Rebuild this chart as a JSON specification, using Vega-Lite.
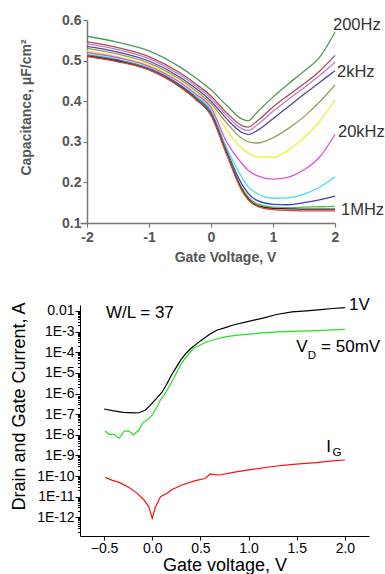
{
  "$schema": "https://vega.github.io/schema/vega-lite/v6.json",
  "padding": {"left": 9, "top": 13, "right": 0, "bottom": 0},
  "spacing": 32,
  "resolve": {"scale": {"color": "independent", "x": "independent", "y": "independent"}},
  "config": {
    "font": "Liberation Sans",
    "view": {"stroke": null},
    "axis": {"grid": false, "labelFont": "Liberation Sans", "titleFont": "Liberation Sans"}
  },
  "datasets": {
    "cv": [
      {"v": -2, "c": 0.560, "s": "c01"}, {"v": -1.5, "c": 0.545, "s": "c01"}, {"v": -1, "c": 0.524, "s": "c01"}, {"v": -0.5, "c": 0.484, "s": "c01"}, {"v": -0.25, "c": 0.458, "s": "c01"}, {"v": 0, "c": 0.428, "s": "c01"}, {"v": 0.25, "c": 0.390, "s": "c01"}, {"v": 0.5, "c": 0.356, "s": "c01"}, {"v": 0.6, "c": 0.352, "s": "c01"}, {"v": 0.75, "c": 0.374, "s": "c01"}, {"v": 1, "c": 0.410, "s": "c01"}, {"v": 1.25, "c": 0.443, "s": "c01"}, {"v": 1.5, "c": 0.474, "s": "c01"}, {"v": 1.75, "c": 0.508, "s": "c01"}, {"v": 2, "c": 0.570, "s": "c01"},
      {"v": -2, "c": 0.546, "s": "c02"}, {"v": -1.5, "c": 0.532, "s": "c02"}, {"v": -1, "c": 0.510, "s": "c02"}, {"v": -0.5, "c": 0.470, "s": "c02"}, {"v": -0.25, "c": 0.443, "s": "c02"}, {"v": 0, "c": 0.413, "s": "c02"}, {"v": 0.25, "c": 0.372, "s": "c02"}, {"v": 0.5, "c": 0.340, "s": "c02"}, {"v": 0.6, "c": 0.336, "s": "c02"}, {"v": 0.75, "c": 0.352, "s": "c02"}, {"v": 1, "c": 0.386, "s": "c02"}, {"v": 1.25, "c": 0.415, "s": "c02"}, {"v": 1.5, "c": 0.443, "s": "c02"}, {"v": 1.75, "c": 0.474, "s": "c02"}, {"v": 2, "c": 0.513, "s": "c02"},
      {"v": -2, "c": 0.541, "s": "c03"}, {"v": -1.5, "c": 0.527, "s": "c03"}, {"v": -1, "c": 0.505, "s": "c03"}, {"v": -0.5, "c": 0.465, "s": "c03"}, {"v": -0.25, "c": 0.438, "s": "c03"}, {"v": 0, "c": 0.407, "s": "c03"}, {"v": 0.25, "c": 0.365, "s": "c03"}, {"v": 0.5, "c": 0.332, "s": "c03"}, {"v": 0.6, "c": 0.328, "s": "c03"}, {"v": 0.75, "c": 0.342, "s": "c03"}, {"v": 1, "c": 0.375, "s": "c03"}, {"v": 1.25, "c": 0.405, "s": "c03"}, {"v": 1.5, "c": 0.433, "s": "c03"}, {"v": 1.75, "c": 0.463, "s": "c03"}, {"v": 2, "c": 0.496, "s": "c03"},
      {"v": -2, "c": 0.535, "s": "c04"}, {"v": -1.5, "c": 0.521, "s": "c04"}, {"v": -1, "c": 0.499, "s": "c04"}, {"v": -0.5, "c": 0.459, "s": "c04"}, {"v": -0.25, "c": 0.432, "s": "c04"}, {"v": 0, "c": 0.400, "s": "c04"}, {"v": 0.25, "c": 0.357, "s": "c04"}, {"v": 0.5, "c": 0.323, "s": "c04"}, {"v": 0.6, "c": 0.318, "s": "c04"}, {"v": 0.75, "c": 0.328, "s": "c04"}, {"v": 1, "c": 0.357, "s": "c04"}, {"v": 1.25, "c": 0.387, "s": "c04"}, {"v": 1.5, "c": 0.417, "s": "c04"}, {"v": 1.75, "c": 0.446, "s": "c04"}, {"v": 2, "c": 0.475, "s": "c04"},
      {"v": -2, "c": 0.530, "s": "c05"}, {"v": -1.5, "c": 0.516, "s": "c05"}, {"v": -1, "c": 0.494, "s": "c05"}, {"v": -0.5, "c": 0.454, "s": "c05"}, {"v": -0.25, "c": 0.426, "s": "c05"}, {"v": 0, "c": 0.394, "s": "c05"}, {"v": 0.25, "c": 0.347, "s": "c05"}, {"v": 0.5, "c": 0.308, "s": "c05"}, {"v": 0.6, "c": 0.300, "s": "c05"}, {"v": 0.75, "c": 0.297, "s": "c05"}, {"v": 1, "c": 0.310, "s": "c05"}, {"v": 1.25, "c": 0.333, "s": "c05"}, {"v": 1.5, "c": 0.362, "s": "c05"}, {"v": 1.75, "c": 0.398, "s": "c05"}, {"v": 2, "c": 0.440, "s": "c05"},
      {"v": -2, "c": 0.524, "s": "c06"}, {"v": -1.5, "c": 0.510, "s": "c06"}, {"v": -1, "c": 0.489, "s": "c06"}, {"v": -0.5, "c": 0.449, "s": "c06"}, {"v": -0.25, "c": 0.421, "s": "c06"}, {"v": 0, "c": 0.388, "s": "c06"}, {"v": 0.25, "c": 0.330, "s": "c06"}, {"v": 0.5, "c": 0.284, "s": "c06"}, {"v": 0.6, "c": 0.272, "s": "c06"}, {"v": 0.75, "c": 0.263, "s": "c06"}, {"v": 1, "c": 0.262, "s": "c06"}, {"v": 1.25, "c": 0.280, "s": "c06"}, {"v": 1.5, "c": 0.310, "s": "c06"}, {"v": 1.75, "c": 0.350, "s": "c06"}, {"v": 2, "c": 0.403, "s": "c06"},
      {"v": -2, "c": 0.520, "s": "c07"}, {"v": -1.5, "c": 0.507, "s": "c07"}, {"v": -1, "c": 0.486, "s": "c07"}, {"v": -0.5, "c": 0.446, "s": "c07"}, {"v": -0.25, "c": 0.418, "s": "c07"}, {"v": 0, "c": 0.384, "s": "c07"}, {"v": 0.25, "c": 0.300, "s": "c07"}, {"v": 0.5, "c": 0.246, "s": "c07"}, {"v": 0.6, "c": 0.230, "s": "c07"}, {"v": 0.75, "c": 0.216, "s": "c07"}, {"v": 1, "c": 0.208, "s": "c07"}, {"v": 1.25, "c": 0.213, "s": "c07"}, {"v": 1.5, "c": 0.231, "s": "c07"}, {"v": 1.75, "c": 0.262, "s": "c07"}, {"v": 2, "c": 0.318, "s": "c07"},
      {"v": -2, "c": 0.515, "s": "c08"}, {"v": -1.5, "c": 0.503, "s": "c08"}, {"v": -1, "c": 0.482, "s": "c08"}, {"v": -0.5, "c": 0.441, "s": "c08"}, {"v": -0.25, "c": 0.413, "s": "c08"}, {"v": 0, "c": 0.377, "s": "c08"}, {"v": 0.25, "c": 0.285, "s": "c08"}, {"v": 0.5, "c": 0.212, "s": "c08"}, {"v": 0.6, "c": 0.189, "s": "c08"}, {"v": 0.75, "c": 0.172, "s": "c08"}, {"v": 1, "c": 0.161, "s": "c08"}, {"v": 1.25, "c": 0.162, "s": "c08"}, {"v": 1.5, "c": 0.171, "s": "c08"}, {"v": 1.75, "c": 0.188, "s": "c08"}, {"v": 2, "c": 0.214, "s": "c08"},
      {"v": -2, "c": 0.513, "s": "c09"}, {"v": -1.5, "c": 0.501, "s": "c09"}, {"v": -1, "c": 0.480, "s": "c09"}, {"v": -0.5, "c": 0.439, "s": "c09"}, {"v": -0.25, "c": 0.410, "s": "c09"}, {"v": 0, "c": 0.372, "s": "c09"}, {"v": 0.25, "c": 0.278, "s": "c09"}, {"v": 0.5, "c": 0.195, "s": "c09"}, {"v": 0.6, "c": 0.173, "s": "c09"}, {"v": 0.75, "c": 0.155, "s": "c09"}, {"v": 1, "c": 0.146, "s": "c09"}, {"v": 1.25, "c": 0.145, "s": "c09"}, {"v": 1.5, "c": 0.150, "s": "c09"}, {"v": 1.75, "c": 0.157, "s": "c09"}, {"v": 2, "c": 0.166, "s": "c09"},
      {"v": -2, "c": 0.512, "s": "c10"}, {"v": -1.5, "c": 0.500, "s": "c10"}, {"v": -1, "c": 0.479, "s": "c10"}, {"v": -0.5, "c": 0.437, "s": "c10"}, {"v": -0.25, "c": 0.408, "s": "c10"}, {"v": 0, "c": 0.369, "s": "c10"}, {"v": 0.25, "c": 0.274, "s": "c10"}, {"v": 0.5, "c": 0.186, "s": "c10"}, {"v": 0.6, "c": 0.165, "s": "c10"}, {"v": 0.75, "c": 0.147, "s": "c10"}, {"v": 1, "c": 0.139, "s": "c10"}, {"v": 1.25, "c": 0.138, "s": "c10"}, {"v": 1.5, "c": 0.139, "s": "c10"}, {"v": 1.75, "c": 0.140, "s": "c10"}, {"v": 2, "c": 0.141, "s": "c10"},
      {"v": -2, "c": 0.511, "s": "c11"}, {"v": -1.5, "c": 0.499, "s": "c11"}, {"v": -1, "c": 0.478, "s": "c11"}, {"v": -0.5, "c": 0.436, "s": "c11"}, {"v": -0.25, "c": 0.406, "s": "c11"}, {"v": 0, "c": 0.367, "s": "c11"}, {"v": 0.25, "c": 0.272, "s": "c11"}, {"v": 0.5, "c": 0.182, "s": "c11"}, {"v": 0.6, "c": 0.160, "s": "c11"}, {"v": 0.75, "c": 0.143, "s": "c11"}, {"v": 1, "c": 0.136, "s": "c11"}, {"v": 1.25, "c": 0.135, "s": "c11"}, {"v": 1.5, "c": 0.134, "s": "c11"}, {"v": 1.75, "c": 0.134, "s": "c11"}, {"v": 2, "c": 0.134, "s": "c11"},
      {"v": -2, "c": 0.510, "s": "c12"}, {"v": -1.5, "c": 0.497, "s": "c12"}, {"v": -1, "c": 0.477, "s": "c12"}, {"v": -0.5, "c": 0.435, "s": "c12"}, {"v": -0.25, "c": 0.405, "s": "c12"}, {"v": 0, "c": 0.365, "s": "c12"}, {"v": 0.25, "c": 0.270, "s": "c12"}, {"v": 0.5, "c": 0.179, "s": "c12"}, {"v": 0.6, "c": 0.157, "s": "c12"}, {"v": 0.75, "c": 0.141, "s": "c12"}, {"v": 1, "c": 0.133, "s": "c12"}, {"v": 1.25, "c": 0.131, "s": "c12"}, {"v": 1.5, "c": 0.130, "s": "c12"}, {"v": 1.75, "c": 0.130, "s": "c12"}, {"v": 2, "c": 0.130, "s": "c12"}
    ],
    "cvlab": [
      {"v": 1.968, "c": 0.588, "t": "200Hz"},
      {"v": 2.032, "c": 0.472, "t": "2kHz"},
      {"v": 2.048, "c": 0.324, "t": "20kHz"},
      {"v": 2.097, "c": 0.132, "t": "1MHz"}
    ],
    "iv": [
      {"v": -0.5, "i": 1.78e-7, "s": "d1"}, {"v": -0.4, "i": 1.45e-7, "s": "d1"}, {"v": -0.3, "i": 1.23e-7, "s": "d1"}, {"v": -0.2, "i": 1.15e-7, "s": "d1"}, {"v": -0.14, "i": 1.17e-7, "s": "d1"}, {"v": -0.07, "i": 1.58e-7, "s": "d1"}, {"v": -0.02, "i": 2.75e-7, "s": "d1"}, {"v": 0.03, "i": 4.9e-7, "s": "d1"}, {"v": 0.1, "i": 1.12e-6, "s": "d1"}, {"v": 0.15, "i": 2.82e-6, "s": "d1"}, {"v": 0.2, "i": 7.9e-6, "s": "d1"}, {"v": 0.26, "i": 2.24e-5, "s": "d1"}, {"v": 0.3, "i": 4.47e-5, "s": "d1"}, {"v": 0.35, "i": 8.9e-5, "s": "d1"}, {"v": 0.4, "i": 1.51e-4, "s": "d1"}, {"v": 0.5, "i": 3.55e-4, "s": "d1"}, {"v": 0.6, "i": 7.6e-4, "s": "d1"}, {"v": 0.67, "i": 1.17e-3, "s": "d1"}, {"v": 0.75, "i": 1.51e-3, "s": "d1"}, {"v": 0.84, "i": 2.09e-3, "s": "d1"}, {"v": 1.0, "i": 3.16e-3, "s": "d1"}, {"v": 1.15, "i": 4.47e-3, "s": "d1"}, {"v": 1.29, "i": 6.76e-3, "s": "d1"}, {"v": 1.45, "i": 9.1e-3, "s": "d1"}, {"v": 1.6, "i": 1.02e-2, "s": "d1"}, {"v": 1.75, "i": 1.17e-2, "s": "d1"}, {"v": 1.87, "i": 1.32e-2, "s": "d1"}, {"v": 2.0, "i": 1.45e-2, "s": "d1"},
      {"v": -0.49, "i": 1.51e-8, "s": "d2"}, {"v": -0.447, "i": 1.05e-8, "s": "d2"}, {"v": -0.395, "i": 1.05e-8, "s": "d2"}, {"v": -0.344, "i": 6.8e-9, "s": "d2"}, {"v": -0.292, "i": 1.51e-8, "s": "d2"}, {"v": -0.241, "i": 1.51e-8, "s": "d2"}, {"v": -0.196, "i": 9.8e-9, "s": "d2"}, {"v": -0.138, "i": 1.7e-8, "s": "d2"}, {"v": -0.103, "i": 3.6e-8, "s": "d2"}, {"v": -0.045, "i": 5.6e-8, "s": "d2"}, {"v": 0, "i": 9.1e-8, "s": "d2"}, {"v": 0.05, "i": 2.29e-7, "s": "d2"}, {"v": 0.085, "i": 4.9e-7, "s": "d2"}, {"v": 0.12, "i": 7.9e-7, "s": "d2"}, {"v": 0.155, "i": 1.48e-6, "s": "d2"}, {"v": 0.223, "i": 5.5e-6, "s": "d2"}, {"v": 0.292, "i": 2.4e-5, "s": "d2"}, {"v": 0.36, "i": 6.6e-5, "s": "d2"}, {"v": 0.43, "i": 1.55e-4, "s": "d2"}, {"v": 0.5, "i": 2.24e-4, "s": "d2"}, {"v": 0.566, "i": 3.24e-4, "s": "d2"}, {"v": 0.67, "i": 4.37e-4, "s": "d2"}, {"v": 0.77, "i": 5.75e-4, "s": "d2"}, {"v": 0.91, "i": 6.9e-4, "s": "d2"}, {"v": 1.18, "i": 8.9e-4, "s": "d2"}, {"v": 1.36, "i": 1.0e-3, "s": "d2"}, {"v": 1.7, "i": 1.12e-3, "s": "d2"}, {"v": 2.0, "i": 1.29e-3, "s": "d2"},
      {"v": -0.49, "i": 8.7e-11, "s": "ig"}, {"v": -0.42, "i": 6.3e-11, "s": "ig"}, {"v": -0.344, "i": 4.9e-11, "s": "ig"}, {"v": -0.241, "i": 2.8e-11, "s": "ig"}, {"v": -0.155, "i": 1.45e-11, "s": "ig"}, {"v": -0.086, "i": 6.9e-12, "s": "ig"}, {"v": -0.035, "i": 3.2e-12, "s": "ig"}, {"v": 0, "i": 8.9e-13, "s": "ig"}, {"v": 0.034, "i": 3.2e-12, "s": "ig"}, {"v": 0.085, "i": 1.0e-11, "s": "ig"}, {"v": 0.154, "i": 1.45e-11, "s": "ig"}, {"v": 0.206, "i": 2.24e-11, "s": "ig"}, {"v": 0.309, "i": 3.7e-11, "s": "ig"}, {"v": 0.446, "i": 6.0e-11, "s": "ig"}, {"v": 0.55, "i": 7.6e-11, "s": "ig"}, {"v": 0.6, "i": 1.26e-10, "s": "ig"}, {"v": 0.65, "i": 1.17e-10, "s": "ig"}, {"v": 0.7, "i": 1.12e-10, "s": "ig"}, {"v": 0.84, "i": 1.51e-10, "s": "ig"}, {"v": 1.05, "i": 2.14e-10, "s": "ig"}, {"v": 1.25, "i": 2.9e-10, "s": "ig"}, {"v": 1.46, "i": 3.7e-10, "s": "ig"}, {"v": 1.7, "i": 4.5e-10, "s": "ig"}, {"v": 1.87, "i": 5.4e-10, "s": "ig"}, {"v": 2.0, "i": 6.0e-10, "s": "ig"}
    ],
    "ivlab": [
      {"v": -0.481, "i": 0.0079, "t": "W/L = 37"},
      {"v": 2.042, "i": 0.0195, "t": "1V"},
      {"v": 1.496, "i": 1.8e-4, "t": "V"},
      {"v": 1.753, "i": 1.8e-4, "t": "= 50mV"},
      {"v": 1.805, "i": 2.63e-9, "t": "I"}
    ],
    "ivsub": [
      {"v": 1.613, "i": 6.8e-5, "t": "D"},
      {"v": 1.871, "i": 1.32e-9, "t": "G"}
    ]
  },
  "vconcat": [
    {
      "width": 255,
      "height": 203,
      "layer": [
        {
          "data": {"name": "cv"},
          "mark": {"type": "line", "interpolate": "monotone", "strokeWidth": 1.3},
          "encoding": {
            "x": {
              "field": "v", "type": "quantitative",
              "scale": {"domain": [-2.113, 2], "nice": false, "zero": false},
              "axis": {
                "values": [-2, -1.5, -1, -0.5, 0, 0.5, 1, 1.5, 2],
                "labelExpr": "indexof([-2, -1, 0, 1, 2], datum.value) >= 0 ? '' + datum.value : ''",
                "tickSize": 4,
                "labelFlush": false, "labelOverlap": false,
                "labelFontSize": 14, "labelFontWeight": "bold", "labelColor": "#555555", "labelPadding": 3,
                "domainColor": "#777777", "tickColor": "#777777", "domainWidth": 1.5, "tickWidth": 1.2,
                "title": "Gate Voltage, V", "titleFontSize": 14, "titleFontWeight": "bold", "titleColor": "#555555",
                "titlePadding": 6, "titleX": 145
              }
            },
            "y": {
              "field": "c", "type": "quantitative",
              "scale": {"domain": [0.1, 0.6], "nice": false, "zero": false},
              "axis": {
                "offset": -7,
                "values": [0.1, 0.15, 0.2, 0.25, 0.3, 0.35, 0.4, 0.45, 0.5, 0.55, 0.6],
                "labelExpr": "indexof([0.1, 0.2, 0.3, 0.4, 0.5, 0.6], datum.value) >= 0 ? format(datum.value, '.1f') : ''",
                "tickSize": 4,
                "labelOverlap": false, "labelFlush": false,
                "labelFontSize": 14, "labelFontWeight": "bold", "labelColor": "#555555", "labelPadding": 2,
                "domainColor": "#777777", "tickColor": "#777777", "domainWidth": 1.5, "tickWidth": 1.2,
                "title": "Capacitance, μF/cm²", "titleFontSize": 14, "titleFontWeight": "bold", "titleColor": "#555555",
                "titleX": -61, "titleY": 87, "titleAngle": 270, "titleAlign": "center", "titleBaseline": "middle"
              }
            },
            "color": {
              "field": "s", "type": "nominal", "legend": null,
              "scale": {
                "domain": ["c01", "c02", "c03", "c04", "c05", "c06", "c07", "c08", "c09", "c10", "c11", "c12"],
                "range": ["#4f9b55", "#a94f4f", "#c27bc9", "#4a4aa8", "#9b9b5b", "#eeee3c", "#e04fe0", "#44dde6", "#3b3bd0", "#4cc44c", "#222222", "#e04030"]
              }
            }
          }
        },
        {
          "data": {"name": "cvlab"},
          "mark": {"type": "text", "align": "left", "baseline": "middle", "fontSize": 16.5, "font": "Liberation Sans", "color": "#333333"},
          "encoding": {
            "x": {"field": "v", "type": "quantitative"},
            "y": {"field": "c", "type": "quantitative"},
            "text": {"field": "t"}
          }
        }
      ]
    },
    {
      "width": 289,
      "height": 231,
      "layer": [
        {
          "data": {"name": "iv"},
          "mark": {"type": "line", "strokeWidth": 1.2},
          "encoding": {
            "x": {
              "field": "v", "type": "quantitative",
              "scale": {"domain": [-0.75, 2.25], "nice": false, "zero": false},
              "axis": {
                "values": [-0.5, -0.25, 0, 0.25, 0.5, 0.75, 1, 1.25, 1.5, 1.75, 2],
                "labelExpr": "indexof([-0.5, 0, 0.5, 1, 1.5, 2], datum.value) >= 0 ? format(datum.value, '.1f') : ''",
                "tickSize": 4,
                "labelFlush": false, "labelOverlap": false,
                "labelFontSize": 14, "labelColor": "#000000", "labelPadding": 1,
                "domainColor": "#000000", "tickColor": "#000000",
                "title": "Gate voltage, V", "titleFontSize": 18, "titleFontWeight": "normal", "titleColor": "#000000",
                "titlePadding": 1
              }
            },
            "y": {
              "field": "i", "type": "quantitative",
              "scale": {"type": "log", "domain": [1.24e-13, 0.0195], "nice": false},
              "axis": {
                "values": [2e-13, 3e-13, 4e-13, 5e-13, 6e-13, 7e-13, 8e-13, 9e-13,
                  1e-12, 2e-12, 3e-12, 4e-12, 5e-12, 6e-12, 7e-12, 8e-12, 9e-12,
                  1e-11, 2e-11, 3e-11, 4e-11, 5e-11, 6e-11, 7e-11, 8e-11, 9e-11,
                  1e-10, 2e-10, 3e-10, 4e-10, 5e-10, 6e-10, 7e-10, 8e-10, 9e-10,
                  1e-9, 2e-9, 3e-9, 4e-9, 5e-9, 6e-9, 7e-9, 8e-9, 9e-9,
                  1e-8, 2e-8, 3e-8, 4e-8, 5e-8, 6e-8, 7e-8, 8e-8, 9e-8,
                  1e-7, 2e-7, 3e-7, 4e-7, 5e-7, 6e-7, 7e-7, 8e-7, 9e-7,
                  1e-6, 2e-6, 3e-6, 4e-6, 5e-6, 6e-6, 7e-6, 8e-6, 9e-6,
                  1e-5, 2e-5, 3e-5, 4e-5, 5e-5, 6e-5, 7e-5, 8e-5, 9e-5,
                  1e-4, 2e-4, 3e-4, 4e-4, 5e-4, 6e-4, 7e-4, 8e-4, 9e-4,
                  1e-3, 2e-3, 3e-3, 4e-3, 5e-3, 6e-3, 7e-3, 8e-3, 9e-3,
                  1e-2],
                "labelExpr": "abs(log(datum.value)/LN10 - round(log(datum.value)/LN10)) < 0.001 ? (round(log(datum.value)/LN10) == -2 ? '0.01' : '1E' + round(log(datum.value)/LN10)) : ''",
                "tickSize": {"condition": {"test": "abs(log(datum.value)/LN10 - round(log(datum.value)/LN10)) < 0.001", "value": 5}, "value": 2.5},
                "labelOverlap": false, "labelFlush": false,
                "labelFontSize": 14, "labelColor": "#000000", "labelPadding": 1,
                "domainColor": "#000000", "tickColor": "#000000",
                "title": "Drain and Gate Current, A", "titleFontSize": 18, "titleFontWeight": "normal", "titleColor": "#000000",
                "titleX": -61, "titleY": 101, "titleAngle": 270, "titleAlign": "center", "titleBaseline": "middle"
              }
            },
            "color": {
              "field": "s", "type": "nominal", "legend": null,
              "scale": {"domain": ["d1", "d2", "ig"], "range": ["#000000", "#22e022", "#ff1010"]}
            }
          }
        },
        {
          "data": {"name": "ivlab"},
          "mark": {"type": "text", "align": "left", "baseline": "middle", "fontSize": 17, "font": "Liberation Sans", "color": "#000000"},
          "encoding": {
            "x": {"field": "v", "type": "quantitative"},
            "y": {"field": "i", "type": "quantitative"},
            "text": {"field": "t"}
          }
        },
        {
          "data": {"name": "ivsub"},
          "mark": {"type": "text", "align": "left", "baseline": "middle", "fontSize": 11.5, "font": "Liberation Sans", "color": "#000000"},
          "encoding": {
            "x": {"field": "v", "type": "quantitative"},
            "y": {"field": "i", "type": "quantitative"},
            "text": {"field": "t"}
          }
        }
      ]
    }
  ]
}
